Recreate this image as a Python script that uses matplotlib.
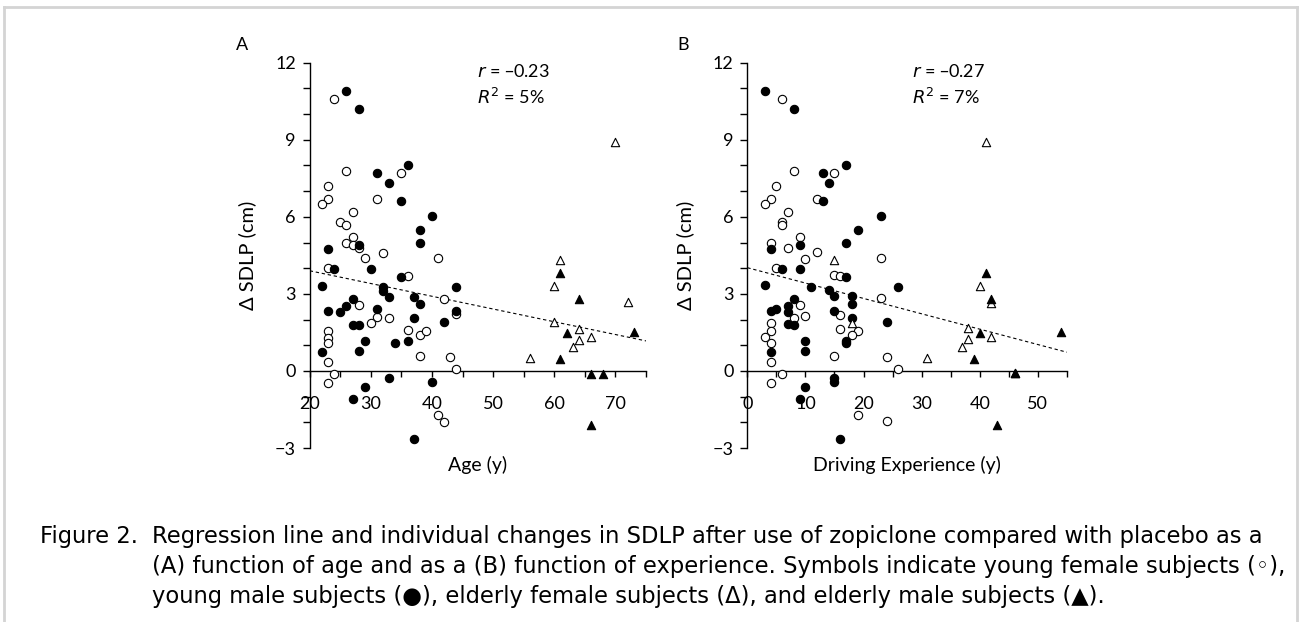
import numpy as np
import matplotlib.pyplot as plt
from matplotlib.lines import Line2D
from matplotlib.ticker import MultipleLocator

# ---- data: panel A (age) ----
age_yf = [24, 26, 35, 23, 23, 22, 31, 27, 25, 26, 27, 26, 27, 28, 32, 29, 41, 23, 36, 42,
          28, 31, 33, 44, 30, 23, 23, 23, 36, 38, 39, 23, 38, 43, 44, 24, 23, 41, 42]
sdlp_a_yf = [10.6, 7.8, 7.7, 7.2, 6.7, 6.5, 6.7, 6.2, 5.8, 5.7, 5.2, 5.0, 4.9, 4.8, 4.6, 4.4, 4.4, 4.0, 3.7, 2.8,
             2.55, 2.1, 2.05, 2.2, 1.85, 1.55, 1.3, 1.1, 1.6, 1.4, 1.55, 0.35, 0.58, 0.55, 0.07, -0.12, -0.47, -1.73, -1.97]

age_ym = [26, 28, 31, 33, 36, 35, 40, 38, 38, 28, 23, 24, 30, 35, 22, 32, 32, 33, 44, 37, 38,
          27, 26, 23, 25, 31, 44, 37, 42, 27, 28, 29, 34, 36, 22, 28, 33, 40, 29, 27, 37]
sdlp_a_ym = [10.9, 10.2, 7.7, 7.3, 8.0, 6.6, 6.05, 5.5, 5.0, 4.9, 4.76, 3.95, 3.95, 3.65, 3.3, 3.28, 3.13, 2.89, 3.27, 2.89, 2.6,
             2.8, 2.54, 2.34, 2.3, 2.4, 2.32, 2.05, 1.9, 1.8, 1.8, 1.16, 1.08, 1.17, 0.73, 0.79, -0.28, -0.44, -0.63, -1.1, -2.65]

age_ef = [70, 61, 60, 72, 60, 64, 64, 66, 63, 56]
sdlp_a_ef = [8.9, 4.3, 3.3, 2.67, 1.92, 1.65, 1.22, 1.34, 0.95, 0.52]

age_em = [61, 64, 62, 73, 61, 66, 68, 66]
sdlp_a_em = [3.81, 2.8, 1.48, 1.53, 0.47, -0.1, -0.1, -2.1]

line_a_x = [20, 75]
line_a_y = [3.9, 1.17]

# ---- data: panel B (driving experience) ----
exp_yf = [6, 8, 15, 5, 4, 3, 12, 7, 6, 6, 9, 4, 7, 12, 10, 23, 5, 15, 16, 23,
          9, 8, 10, 16, 4, 4, 4, 3, 16, 19, 18, 4, 15, 24, 26, 6, 4, 19, 24]
sdlp_b_yf = [10.6, 7.8, 7.7, 7.2, 6.7, 6.5, 6.7, 6.2, 5.8, 5.7, 5.2, 5.0, 4.8, 4.65, 4.37, 4.4, 4.0, 3.75, 3.7, 2.83,
             2.58, 2.06, 2.14, 2.18, 1.86, 1.57, 1.1, 1.31, 1.65, 1.55, 1.41, 0.36, 0.6, 0.54, 0.07, -0.12, -0.47, -1.73, -1.96]

exp_ym = [3, 8, 13, 14, 17, 13, 23, 19, 17, 9, 4, 6, 9, 17, 3, 11, 14, 15, 18, 18, 26,
          8, 7, 7, 4, 5, 15, 18, 24, 7, 8, 10, 17, 17, 4, 10, 15, 15, 10, 9, 16]
sdlp_b_ym = [10.9, 10.2, 7.7, 7.3, 8.0, 6.6, 6.05, 5.5, 5.0, 4.9, 4.76, 3.96, 3.96, 3.65, 3.33, 3.27, 3.15, 2.9, 2.9, 2.62, 3.27,
             2.8, 2.54, 2.3, 2.34, 2.4, 2.32, 2.05, 1.9, 1.82, 1.79, 1.17, 1.17, 1.08, 0.73, 0.79, -0.28, -0.44, -0.63, -1.1, -2.64]

exp_ef = [41, 15, 40, 42, 18, 38, 38, 42, 37, 31]
sdlp_b_ef = [8.9, 4.3, 3.3, 2.66, 1.88, 1.66, 1.25, 1.34, 0.95, 0.52]

exp_em = [41, 42, 40, 54, 39, 46, 46, 43]
sdlp_b_em = [3.83, 2.81, 1.48, 1.53, 0.48, -0.09, -0.09, -2.1]

line_b_x = [0, 55]
line_b_y = [4.02, 0.73]

caption_1 = "Figure 2."
caption_2 = ["Regression line and individual changes in SDLP after use of zopiclone compared with placebo as a",
             "(A) function of age and as a (B) function of experience. Symbols indicate young female subjects (\u25e6),",
             "young male subjects (\u25cf), elderly female subjects (\u0394), and elderly male subjects (\u25b2)."]


plt.rcParams['font.family'] = ['Lato', 'DejaVu Sans']
plt.rcParams['font.size'] = 13
plt.rcParams['axes.unicode_minus'] = True

fig = plt.figure(figsize=(13.02, 6.22), dpi=100)


def draw_panel(rect, xs, ys, line_x, line_y, xlim, xlabel, letter, r_text, r2_text, txt_x, ylab_x):
    ax = fig.add_axes(rect)
    ax.plot(line_x, line_y, color='black', lw=0.8, ls=(0, (3, 2.5)), zorder=1)
    styles = [dict(marker='o', facecolors='white'), dict(marker='o', facecolors='black'),
              dict(marker='^', facecolors='white'), dict(marker='^', facecolors='black')]
    for (x, y), st in zip(zip(xs, ys), styles):
        ax.scatter(x, y, s=36, edgecolors='black', linewidths=0.8, zorder=3, clip_on=False, **st)
    ax.spines['top'].set_visible(False)
    ax.spines['right'].set_visible(False)
    ax.spines['bottom'].set_position(('data', 0))
    ax.spines['left'].set_linewidth(1.0)
    ax.spines['bottom'].set_linewidth(1.0)
    ax.yaxis.set_minor_locator(MultipleLocator(1))
    ax.xaxis.set_minor_locator(MultipleLocator(5))
    ax.tick_params(axis='y', which='both', direction='out', length=5, width=1.0, pad=5, labelsize=13)
    ax.tick_params(axis='x', which='both', direction='out', length=4, width=1.0, pad=14, labelsize=13)
    ax.set_yticks([-3, 0, 3, 6, 9, 12])
    ax.set_yticklabels(['\u22123', '0', '3', '6', '9', '12'])
    xt = list(range(xlim[0], xlim[1], 10))
    ax.set_xticks(xt)
    ax.set_xticklabels([str(t) for t in xt])
    ax.set_xlim(*xlim)
    ax.set_ylim(-3, 12)
    ax.set_xlabel(xlabel, fontsize=14)
    ax.xaxis.set_label_coords(0.5, -0.02)
    ax.set_ylabel('\u0394 SDLP (cm)', fontsize=14.5)
    ax.yaxis.set_label_coords(ylab_x, 0.5)
    ax.text(txt_x, 11.65, r_text, ha='left', va='center', fontsize=13)
    ax.text(txt_x, 10.65, r2_text, ha='left', va='center', fontsize=13)
    ax.text(-0.2, 1.045, letter, transform=ax.transAxes, ha='center', va='center', fontsize=13)
    return ax


draw_panel([0.2379, 0.2797, 0.2583, 0.6195],
           [age_yf, age_ym, age_ef, age_em], [sdlp_a_yf, sdlp_a_ym, sdlp_a_ef, sdlp_a_em],
           line_a_x, line_a_y, (20, 75), 'Age (y)', 'A',
           '$\\it{r}$ = \u20130.23', '$\\it{R}^2$ = 5%', 47.3, -0.16)

draw_panel([0.5740, 0.2797, 0.2454, 0.6195],
           [exp_yf, exp_ym, exp_ef, exp_em], [sdlp_b_yf, sdlp_b_ym, sdlp_b_ef, sdlp_b_em],
           line_b_x, line_b_y, (0, 55), 'Driving Experience (y)', 'B',
           '$\\it{r}$ = \u20130.27', '$\\it{R}^2$ = 7%', 28.3, -0.165)

# caption
cap_font = ['DejaVu Sans']
fig.text(40 / 1302, 1 - 536 / 622, caption_1, ha='left', va='center', fontsize=16.3, family=cap_font)
for i, line in enumerate(caption_2):
    fig.text(152 / 1302, 1 - (536 + 30.5 * i) / 622, line, ha='left', va='center', fontsize=16.3, family=cap_font)

# light frame around the figure
frame_c = '#d4d4d4'
fig.add_artist(Line2D([4 / 1302, 4 / 1302], [0, 1 - 7 / 622], color=frame_c, lw=2, transform=fig.transFigure))
fig.add_artist(Line2D([4 / 1302, 1297 / 1302], [1 - 7 / 622, 1 - 7 / 622], color=frame_c, lw=2, transform=fig.transFigure))
fig.add_artist(Line2D([1297 / 1302, 1297 / 1302], [0, 1 - 7 / 622], color=frame_c, lw=2, transform=fig.transFigure))

fig.savefig('out.png', dpi=100, facecolor='white')
